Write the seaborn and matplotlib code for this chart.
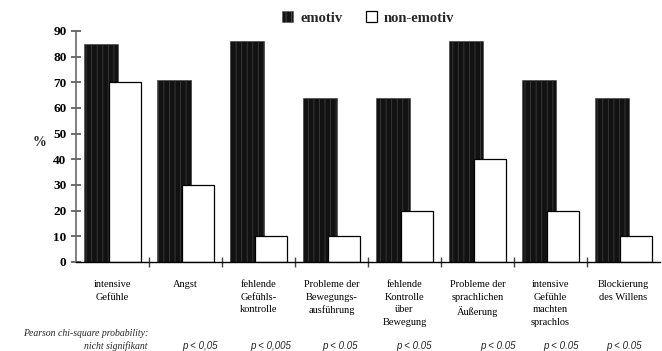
import numpy as np
import pandas as pd
import seaborn as sns
import matplotlib.pyplot as plt
from matplotlib.patches import Patch
from matplotlib.transforms import blended_transform_factory

# Data
categories = ['intensive\nGefühle', 'Angst', 'fehlende\nGefühls-\nkontrolle',
              'Probleme der\nBewegungs-\nausführung', 'fehlende\nKontrolle\nüber\nBewegung',
              'Probleme der\nsprachlichen\nÄußerung', 'intensive\nGefühle\nmachten\nsprachlos',
              'Blockierung\ndes Willens']
emotiv = [85, 71, 86, 64, 64, 86, 71, 64]
non_emotiv = [70, 30, 10, 10, 20, 40, 20, 10]
p_values = ['p < 0,05', 'p < 0,005', 'p < 0.05', 'p < 0.05', 'p < 0.05', 'p < 0.05', 'p < 0.05']

df = pd.DataFrame({'Kategorie': categories, 'emotiv': emotiv, 'non-emotiv': non_emotiv})

sns.set_theme(style='white')
plt.rcParams['font.family'] = ['Liberation Serif', 'DejaVu Serif']
plt.rcParams['hatch.linewidth'] = 0.6

fig, ax = plt.subplots(figsize=(6.62, 3.51), dpi=100)
fig.subplots_adjust(left=0.115, right=0.997, bottom=0.2536, top=0.912)

# emotiv bars (behind), shifted left
sns.barplot(data=df, x='Kategorie', y='emotiv', color='#121212', edgecolor='#3c3c3c',
            linewidth=0.4, hatch='|||', width=0.46, errorbar=None, ax=ax)
for p in ax.patches:
    p.set_x(p.get_x() - 0.16)
n_first = len(ax.patches)

# non-emotiv bars (in front), shifted right
sns.barplot(data=df, x='Kategorie', y='non-emotiv', color='white', edgecolor='black',
            linewidth=0.9, width=0.45, errorbar=None, ax=ax)
for p in ax.patches[n_first:]:
    p.set_x(p.get_x() + 0.17)
    p.set_facecolor('white')

ax.set_xlim(-0.5, 7.5)
ax.set_ylim(0, 90)
ax.set_yticks(range(0, 91, 10))
ax.set_xlabel('')
ax.set_ylabel('%', fontsize=10, fontweight='bold', rotation=0, labelpad=18)
ax.yaxis.set_label_coords(-0.062, 0.49)

sns.despine(ax=ax)
ax.spines['left'].set_color('#6a6a6a')
ax.spines['left'].set_linewidth(1.2)
ax.spines['bottom'].set_color('black')
ax.spines['bottom'].set_linewidth(1.0)

ax.set_xticks(range(len(categories)))
ax.set_xticklabels(categories, fontsize=7.5, linespacing=1.5, va='top')
ax.set_xticks(np.arange(0.5, len(categories) - 0.5, 1), minor=True)
ax.tick_params(axis='x', which='major', length=0, pad=13, colors='black')
ax.tick_params(axis='x', which='minor', bottom=True, direction='inout', length=7, width=1, color='#444444')
ax.tick_params(axis='y', left=True, direction='inout', length=7, width=1.1, labelsize=9.5,
               color='#444444', labelcolor='black')
for lbl in ax.get_yticklabels():
    lbl.set_fontweight('bold')

# legend at the top
handles = [Patch(facecolor='#121212', edgecolor='#555555', hatch='|||', linewidth=0.4),
           Patch(facecolor='white', edgecolor='black', linewidth=0.9)]
fig.legend(handles, ['emotiv', 'non-emotiv'], loc='center', bbox_to_anchor=(0.556, 0.949),
           ncol=2, frameon=False, handlelength=0.75, handleheight=0.75, handletextpad=0.5,
           columnspacing=1.6, prop={'weight': 'bold', 'size': 10.5})

# significance row
fig.text(148 / 662, 1 - 334 / 351, 'Pearson chi-square probability:', ha='right', va='center',
         fontsize=7, style='italic')
fig.text(148 / 662, 1 - 346 / 351, 'nicht signifikant', ha='right', va='center',
         fontsize=7, style='italic')
trans = blended_transform_factory(ax.transData, fig.transFigure)
p_x = [1.2, 2.16, 3.12, 4.13, 5.28, 6.14, 7.0]
for x, txt in zip(p_x, p_values):
    ax.text(x, 1 - 346 / 351, txt, transform=trans, ha='center', va='center',
            fontsize=7, style='italic', family=['Liberation Sans', 'DejaVu Sans'])

fig.savefig('out.png', dpi=100)
